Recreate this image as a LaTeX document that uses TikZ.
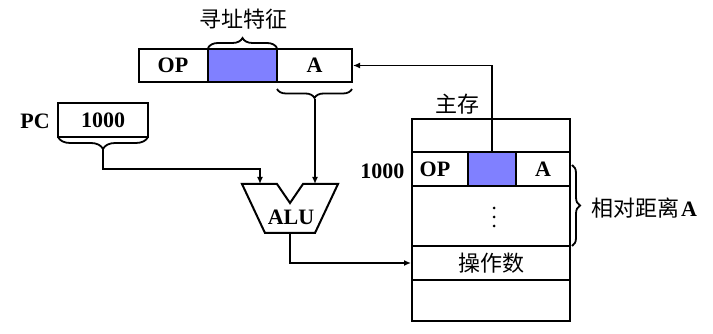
\documentclass[tikz,border=0pt]{standalone}
\usepackage{fontspec}
\setmainfont{Liberation Serif}
\newfontfamily\cjk{Noto Sans CJK SC}
\usetikzlibrary{arrows.meta,decorations.pathreplacing,calc}
\definecolor{cellblue}{HTML}{8080FF}
\begin{document}
\begin{tikzpicture}[x=1pt,y=-1pt,
  box/.style={draw,line width=2pt,inner sep=0pt,rectangle},
  bt/.style={font=\fontsize{22}{24}\selectfont\bfseries},
  ct/.style={font=\fontsize{22}{24}\selectfont\cjk},
  arr/.style={line width=1.8pt,-{Latex[length=7pt,width=6pt]}},
  brc/.style={line width=1.8pt,decorate,decoration={brace,amplitude=#1}},
  dot/.style={fill,circle,inner sep=0pt,minimum size=3pt}
]
\useasboundingbox (0,0) rectangle (713,334);
% instruction
\node[box,minimum width=69pt,minimum height=33pt,bt] (iop) at (173,65.5) {OP};
\node[box,fill=cellblue,minimum width=69pt,minimum height=33pt] (ibl) at (242.5,65.5) {};
\node[box,minimum width=75pt,minimum height=33pt,bt] (ia) at (314.5,65.5) {A};
\draw[brc=10pt] (208,48) -- (277,48);
\node[ct] (feat) at (243,19) {寻址特征};
\draw[brc=9pt] (352,89) -- (277,89);
\coordinate (atip) at (315,99);
% PC
\node[bt] (pc) at (35,121) {PC};
\node[box,minimum width=90pt,minimum height=34pt,bt] (pcb) at (103,120) {1000};
\draw[brc=12pt] (148,137) -- (58,137);
\coordinate (pctip) at (103,149);
% ALU
\coordinate (aluL) at (260,184);
\coordinate (aluR) at (315,184);
\coordinate (aluB) at (290,233);
\draw[line width=2pt,line join=miter] (242,184) -- (277,184) -- (290,203) -- (303,184) -- (338,184) -- (315,233) -- (265,233) -- cycle;
\node[bt] (alu) at (291,217) {ALU};
% memory
\node[box,minimum width=158pt,minimum height=33pt] (m0) at (491,135.5) {};
\node[box,minimum width=56pt,minimum height=34pt] (mop) at (440,169) {};
\node[bt] (mopt) at (435,169) {OP};
\node[box,fill=cellblue,minimum width=48pt,minimum height=34pt] (mbl) at (492,169) {};
\node[box,minimum width=54pt,minimum height=34pt,bt] (ma) at (543,169) {A};
\node[box,minimum width=158pt,minimum height=60pt] (m2) at (491,216) {};
\node[dot] (d1) at (494,208) {};
\node[dot] (d2) at (494,217) {};
\node[dot] (d3) at (494,226) {};
\node[box,minimum width=158pt,minimum height=34pt,ct] (m3) at (491,263) {操作数};
\node[box,minimum width=158pt,minimum height=41pt] (m4) at (491,300.5) {};
\node[ct] (mem) at (457,104) {主存};
\node[bt,anchor=east] (addr) at (408,171) {1000};
\draw[brc=8pt] (572,165) -- (572,246);
\node[anchor=west] (rel) at (588,208) {{\fontsize{22}{24}\selectfont\cjk 相对距离}\,{\fontsize{22}{24}\selectfont\bfseries A}};
% connectors
\draw[arr] (pctip) |- ($(aluL)+(0,-15)$) -- (aluL);
\draw[arr] (atip) -- (aluR);
\draw[arr] (aluB) |- (m3.west);
\draw[arr] (mbl.north) |- (ia.east);
\end{tikzpicture}
\end{document}
